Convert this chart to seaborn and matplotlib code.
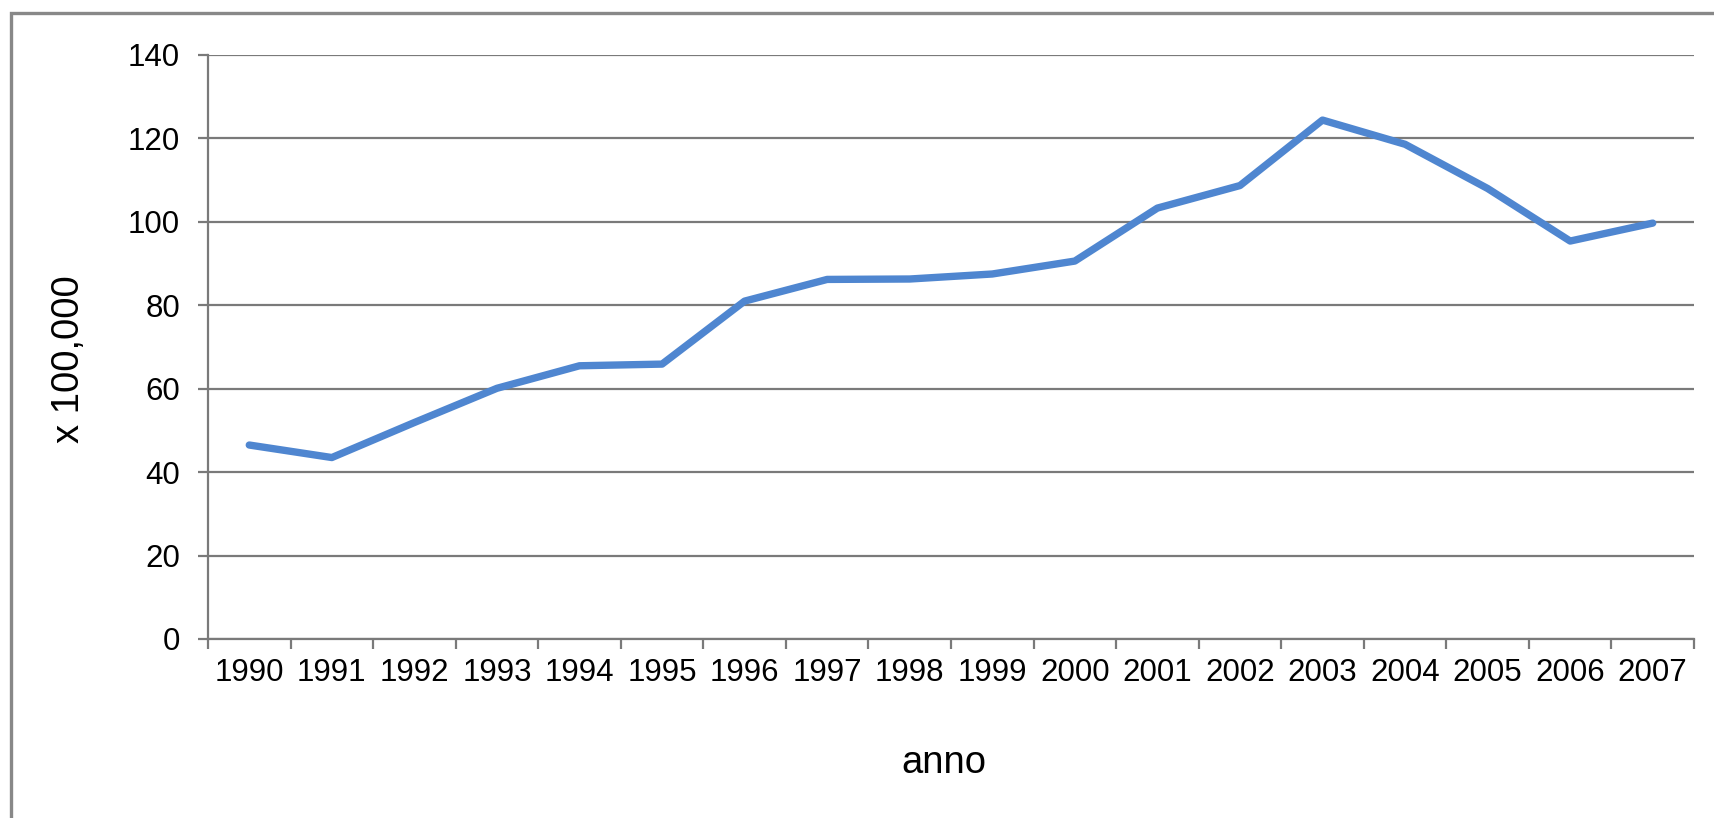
import numpy as np
import pandas as pd
import matplotlib
matplotlib.use("Agg")
import matplotlib.pyplot as plt
from matplotlib.patches import Rectangle
import seaborn as sns

# ---- data ----
years = [1990, 1991, 1992, 1993, 1994, 1995, 1996, 1997, 1998,
         1999, 2000, 2001, 2002, 2003, 2004, 2005, 2006, 2007]
values = [46.5, 43.5, 51.9, 60.1, 65.5, 65.9, 81.0, 86.2, 86.3,
          87.5, 90.6, 103.3, 108.7, 124.4, 118.6, 108.0, 95.4, 99.7]
y_ticks = [0, 20, 40, 60, 80, 100, 120, 140]
x_title = "anno"
y_title = "x 100,000"

sns.set_theme(style="white")
plt.rcParams["font.family"] = ["Liberation Sans", "DejaVu Sans"]

W, H, DPI = 1715, 818, 100
fig = plt.figure(figsize=(W / DPI, H / DPI), dpi=DPI)
fig.patch.set_facecolor("white")

# axes placement (pixels -> fractions)
left_px, right_px, top_px, bottom_px = 208, 1694, 55, 639
ax = fig.add_axes([left_px / W, 1 - bottom_px / H,
                   (right_px - left_px) / W, (bottom_px - top_px) / H])

df = pd.DataFrame({"pos": np.arange(len(years)), "val": values})
sns.lineplot(data=df, x="pos", y="val", ax=ax, color="#4F86D0",
             linewidth=5.3, solid_joinstyle="round", solid_capstyle="round",
             zorder=3)

grid_c = "#7a7a7a"
ax.set_xlim(-0.5, len(years) - 0.5)
ax.set_ylim(0, 140)
ax.set_yticks(y_ticks)
ax.set_yticklabels([str(v) for v in y_ticks])
ax.yaxis.grid(True, color=grid_c, linewidth=1.6)
ax.xaxis.grid(False)
ax.set_axisbelow(True)

for s in ["top", "right"]:
    ax.spines[s].set_visible(False)
for s in ["left", "bottom"]:
    ax.spines[s].set_visible(True)
    ax.spines[s].set_color(grid_c)
    ax.spines[s].set_linewidth(1.6)

# x ticks: labels at centers, marks at boundaries
ax.set_xticks(np.arange(len(years)))
ax.set_xticklabels([str(y) for y in years])
ax.set_xticks(np.arange(len(years) + 1) - 0.5, minor=True)
ax.tick_params(axis="x", which="major", length=0, pad=14,
               labelsize=22.5, labelcolor="black")
ax.tick_params(axis="x", which="minor", length=7.5, width=1.6,
               color=grid_c, direction="out", bottom=True)
ax.tick_params(axis="y", which="major", length=7.5, width=1.6,
               color=grid_c, direction="out", left=True, pad=12.5,
               labelsize=22.5, labelcolor="black")

ax.set_xlabel(x_title, fontsize=27.5, color="black", va="center")
ax.set_ylabel(y_title, fontsize=27.5, color="black", va="center")
ax.xaxis.set_label_coords((944 - left_px) / (right_px - left_px),
                          -(763 - bottom_px) / (bottom_px - top_px))
ax.yaxis.set_label_coords(-(left_px - 69) / (right_px - left_px),
                          (bottom_px - 359) / (bottom_px - top_px))

# outer chart frame (left & top edges visible, right/bottom off-canvas)
frame = Rectangle((11 / W, -0.1), 1.2, 1.1 - 13 / H,
                  transform=fig.transFigure, fill=False,
                  edgecolor="#888888", linewidth=2.4, zorder=0)
fig.patches.append(frame)

fig.savefig("out.png", dpi=DPI, facecolor="white")
